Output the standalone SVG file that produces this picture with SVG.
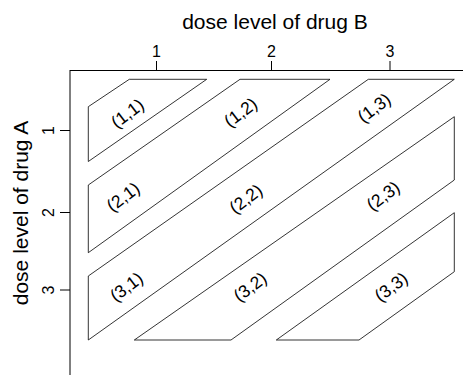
<svg xmlns="http://www.w3.org/2000/svg" width="463" height="375" viewBox="0 0 463 375">
<style>
.t{font-family:"Liberation Sans",Arial,sans-serif;fill:#000}
.title{font-size:21px;text-anchor:middle}
.tick{font-size:16px;text-anchor:middle}
.lab{font-size:17.5px;text-anchor:middle}
.ax{stroke:#000;stroke-width:1;fill:none}
.band{stroke:#000;stroke-width:0.8;fill:#fff;stroke-linejoin:miter}
</style>
<rect width="463" height="375" fill="#fff"/>
<g id="axes">
<line class="ax" x1="70" y1="70.5" x2="463" y2="70.5"/>
<line class="ax" x1="70" y1="70" x2="70" y2="375" stroke="#555"/>
<line class="ax" x1="156.5" y1="61" x2="156.5" y2="70"/>
<line class="ax" x1="271.5" y1="61" x2="271.5" y2="70"/>
<line class="ax" x1="390" y1="61" x2="390" y2="70"/>
<line class="ax" x1="60" y1="130.5" x2="70" y2="130.5"/>
<line class="ax" x1="60" y1="212.5" x2="70" y2="212.5"/>
<line class="ax" x1="60" y1="290" x2="70" y2="290"/>
<text class="t title" x="275" y="29">dose level of drug B</text>
<text class="t tick" x="156.5" y="56.5">1</text>
<text class="t tick" x="271.5" y="56.5">2</text>
<text class="t tick" x="390" y="56.5">3</text>
<text class="t title" transform="translate(28,213) rotate(-90)">dose level of drug A</text>
<text class="t tick" transform="translate(53.5,130.5) rotate(-90)">1</text>
<text class="t tick" transform="translate(53.5,212.5) rotate(-90)">2</text>
<text class="t tick" transform="translate(53.5,290) rotate(-90)">3</text>
</g>
<g id="connectors"></g>
<g id="band1"><polygon class="band" points="129.3,79.3 206.7,79.3 88.3,161.5 88.3,106.7"/></g>
<g id="band2"><polygon class="band" points="240,79.3 330,79.3 88.3,252.7 88.3,185"/></g>
<g id="band3"><polygon class="band" points="368.3,79.3 454.3,79.3 88.3,340 88.3,276"/></g>
<g id="band4"><polygon class="band" points="454.3,116.7 454.3,180 231,340 134.3,340"/></g>
<g id="band5"><polygon class="band" points="454.3,212.7 454.3,271.7 359,340 276.3,340"/></g>
<g id="labels">
<text class="t lab" transform="translate(128.3,114.5) rotate(-37)" y="4.5">(1,1)</text>
<text class="t lab" transform="translate(241.5,113.5) rotate(-37)" y="4.5">(1,2)</text>
<text class="t lab" transform="translate(375,109) rotate(-37)" y="4.5">(1,3)</text>
<text class="t lab" transform="translate(124,198) rotate(-37)" y="4.5">(2,1)</text>
<text class="t lab" transform="translate(246.7,200) rotate(-37)" y="4.5">(2,2)</text>
<text class="t lab" transform="translate(384,197) rotate(-37)" y="4.5">(2,3)</text>
<text class="t lab" transform="translate(127.3,288) rotate(-37)" y="4.5">(3,1)</text>
<text class="t lab" transform="translate(251,288) rotate(-37)" y="4.5">(3,2)</text>
<text class="t lab" transform="translate(392,288) rotate(-37)" y="4.5">(3,3)</text>
</g>
</svg>
